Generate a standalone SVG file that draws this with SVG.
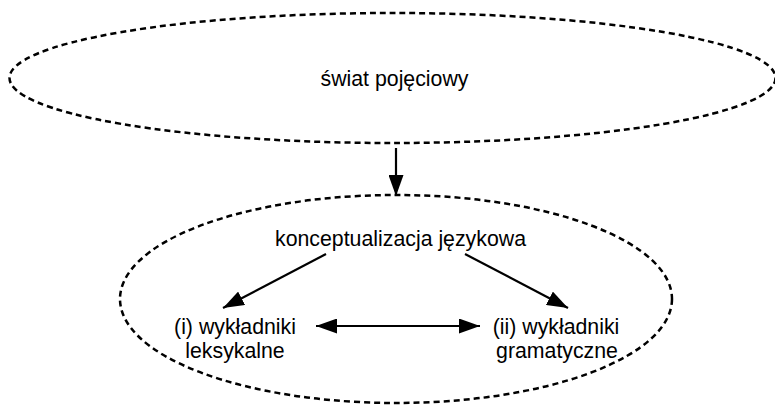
<svg xmlns="http://www.w3.org/2000/svg" width="775" height="405" viewBox="0 0 775 405">
<style>
.el{fill:none;stroke:#000;stroke-width:2.5;stroke-dasharray:6,4}
.t{font-family:"Liberation Sans",Arial,sans-serif;font-size:21.3px;fill:#000;text-anchor:middle}
.c{stroke:#000;stroke-width:2.2;fill:none}
</style>
<defs>
<marker id="ah" viewBox="0 0 21 15" refX="21" refY="7.5" markerWidth="21" markerHeight="15" markerUnits="userSpaceOnUse" orient="auto-start-reverse">
<path d="M0,0 L21,7.5 L0,15 Z" fill="#000"/>
</marker>
</defs>
<g id="swiat">
<ellipse class="el" cx="392.5" cy="78" rx="383" ry="65"/>
<text class="t" x="394.5" y="86">świat pojęciowy</text>
</g>
<g id="konceptualizacja">
<ellipse class="el" cx="396" cy="299" rx="276" ry="104"/>
<text class="t" x="400.5" y="246">konceptualizacja językowa</text>
</g>
<g id="leksykalne">
<text class="t" x="235" y="334">(i) wykładniki</text>
<text class="t" x="235" y="358">leksykalne</text>
</g>
<g id="gramatyczne">
<text class="t" x="556" y="334">(ii) wykładniki</text>
<text class="t" x="557" y="358">gramatyczne</text>
</g>
<g id="connectors">
<line class="c" x1="396" y1="148" x2="396" y2="196" marker-end="url(#ah)"/>
<line class="c" x1="326" y1="254" x2="223" y2="308" marker-end="url(#ah)"/>
<line class="c" x1="465" y1="254" x2="568" y2="308" marker-end="url(#ah)"/>
<line class="c" x1="316" y1="326" x2="480" y2="326" marker-start="url(#ah)" marker-end="url(#ah)"/>
</g>
</svg>
